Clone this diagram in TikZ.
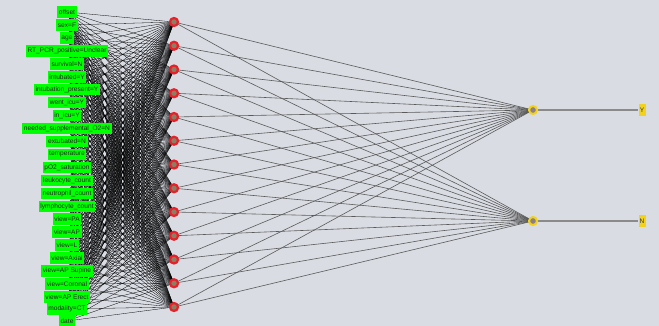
\documentclass[tikz,border=0pt]{standalone}
\usepackage{fontspec}
\setmainfont{Liberation Sans}
\definecolor{wekabg}{HTML}{D9DCE3}
\definecolor{inputgreen}{HTML}{00FF00}
\definecolor{hiddenred}{HTML}{E8202A}
\definecolor{nodecore}{HTML}{8A7F62}
\definecolor{outcore}{HTML}{8C7F8A}
\definecolor{outyellow}{HTML}{F2D21B}
\definecolor{wiregrey}{HTML}{5A5A5A}
\definecolor{classgrey}{HTML}{8A8A8A}
\pgfdeclarelayer{paper}
\pgfdeclarelayer{wires}
\pgfsetlayers{paper,wires,main}

\begin{document}
\begin{tikzpicture}[x=1pt, y=-1pt, font=\fontsize{6.6}{7}\selectfont,
    inbox/.style={fill=inputgreen, text=black!85, inner xsep=1.7pt,
                  inner ysep=0pt, minimum height=11.5pt},
    hid/.style={circle, draw=hiddenred, line width=2.2pt, fill=nodecore,
                inner sep=0pt, minimum size=8pt},
    outnode/.style={circle, draw=outyellow, line width=2pt, fill=outcore,
                    inner sep=0pt, minimum size=8pt},
    classbox/.style={fill=outyellow, text=black!80, inner sep=0.5pt,
                     minimum width=7pt, minimum height=12pt},
    inwire/.style={black, line width=0.3pt},
    hidwire/.style={wiregrey, line width=0.6pt},
    outwire/.style={classgrey, line width=1.2pt}]
  \begin{pgfonlayer}{paper}
    \fill[wekabg] (0,0) rectangle (659,326);
  \end{pgfonlayer}
  \useasboundingbox (0,0) rectangle (659,326);

  % input attributes
  \node[inbox] (in0) at (67,12) {offset};
  \node[inbox] (in1) at (67,25) {sex=F};
  \node[inbox] (in2) at (67,38) {age};
  \node[inbox] (in3) at (67,51) {RT\_PCR\_positive=Unclear};
  \node[inbox] (in4) at (67,64) {survival=N};
  \node[inbox] (in5) at (67,77) {intubated=Y};
  \node[inbox] (in6) at (67,89.5) {intubation\_present=Y};
  \node[inbox] (in7) at (67,102.5) {went\_icu=Y};
  \node[inbox] (in8) at (67,115.5) {in\_icu=Y};
  \node[inbox] (in9) at (67,128.5) {needed\_supplemental\_O2=N};
  \node[inbox] (in10) at (67,141.5) {extubated=N};
  \node[inbox] (in11) at (67,154.5) {temperature};
  \node[inbox] (in12) at (67,167.5) {pO2\_saturation};
  \node[inbox] (in13) at (67,180.5) {leukocyte\_count};
  \node[inbox] (in14) at (67,193.5) {neutrophil\_count};
  \node[inbox] (in15) at (67,206.5) {lymphocyte\_count};
  \node[inbox] (in16) at (67,219) {view=PA};
  \node[inbox] (in17) at (67,232) {view=AP};
  \node[inbox] (in18) at (67,245) {view=L};
  \node[inbox] (in19) at (67,258) {view=Axial};
  \node[inbox] (in20) at (67,271) {view=AP Supine};
  \node[inbox] (in21) at (67,284) {view=Coronal};
  \node[inbox] (in22) at (67,297) {view=AP Erect};
  \node[inbox] (in23) at (67,309) {modality=CT};
  \node[inbox] (in24) at (67,321) {date};

  % hidden layer
  \foreach \j in {0,...,12}
    \node[hid] (h\j) at (174,{22+23.75*\j}) {};

  % output layer
  \node[outnode] (o0) at (533,110) {};
  \node[outnode] (o1) at (533,221) {};
  \node[classbox] (cy) at (642,110) {Y};
  \node[classbox] (cn) at (642,221) {N};

  % links
  \begin{pgfonlayer}{wires}
    \foreach \i in {0,...,24}
      \foreach \j in {0,...,12}
        \draw[inwire] (in\i.center) -- (h\j.center);
    \foreach \j in {0,...,12} {
      \draw[hidwire] (h\j.center) -- (o0.center);
      \draw[hidwire] (h\j.center) -- (o1.center);
    }
    \draw[outwire] (o0) -- (cy);
    \draw[outwire] (o1) -- (cn);
  \end{pgfonlayer}
\end{tikzpicture}
\end{document}
